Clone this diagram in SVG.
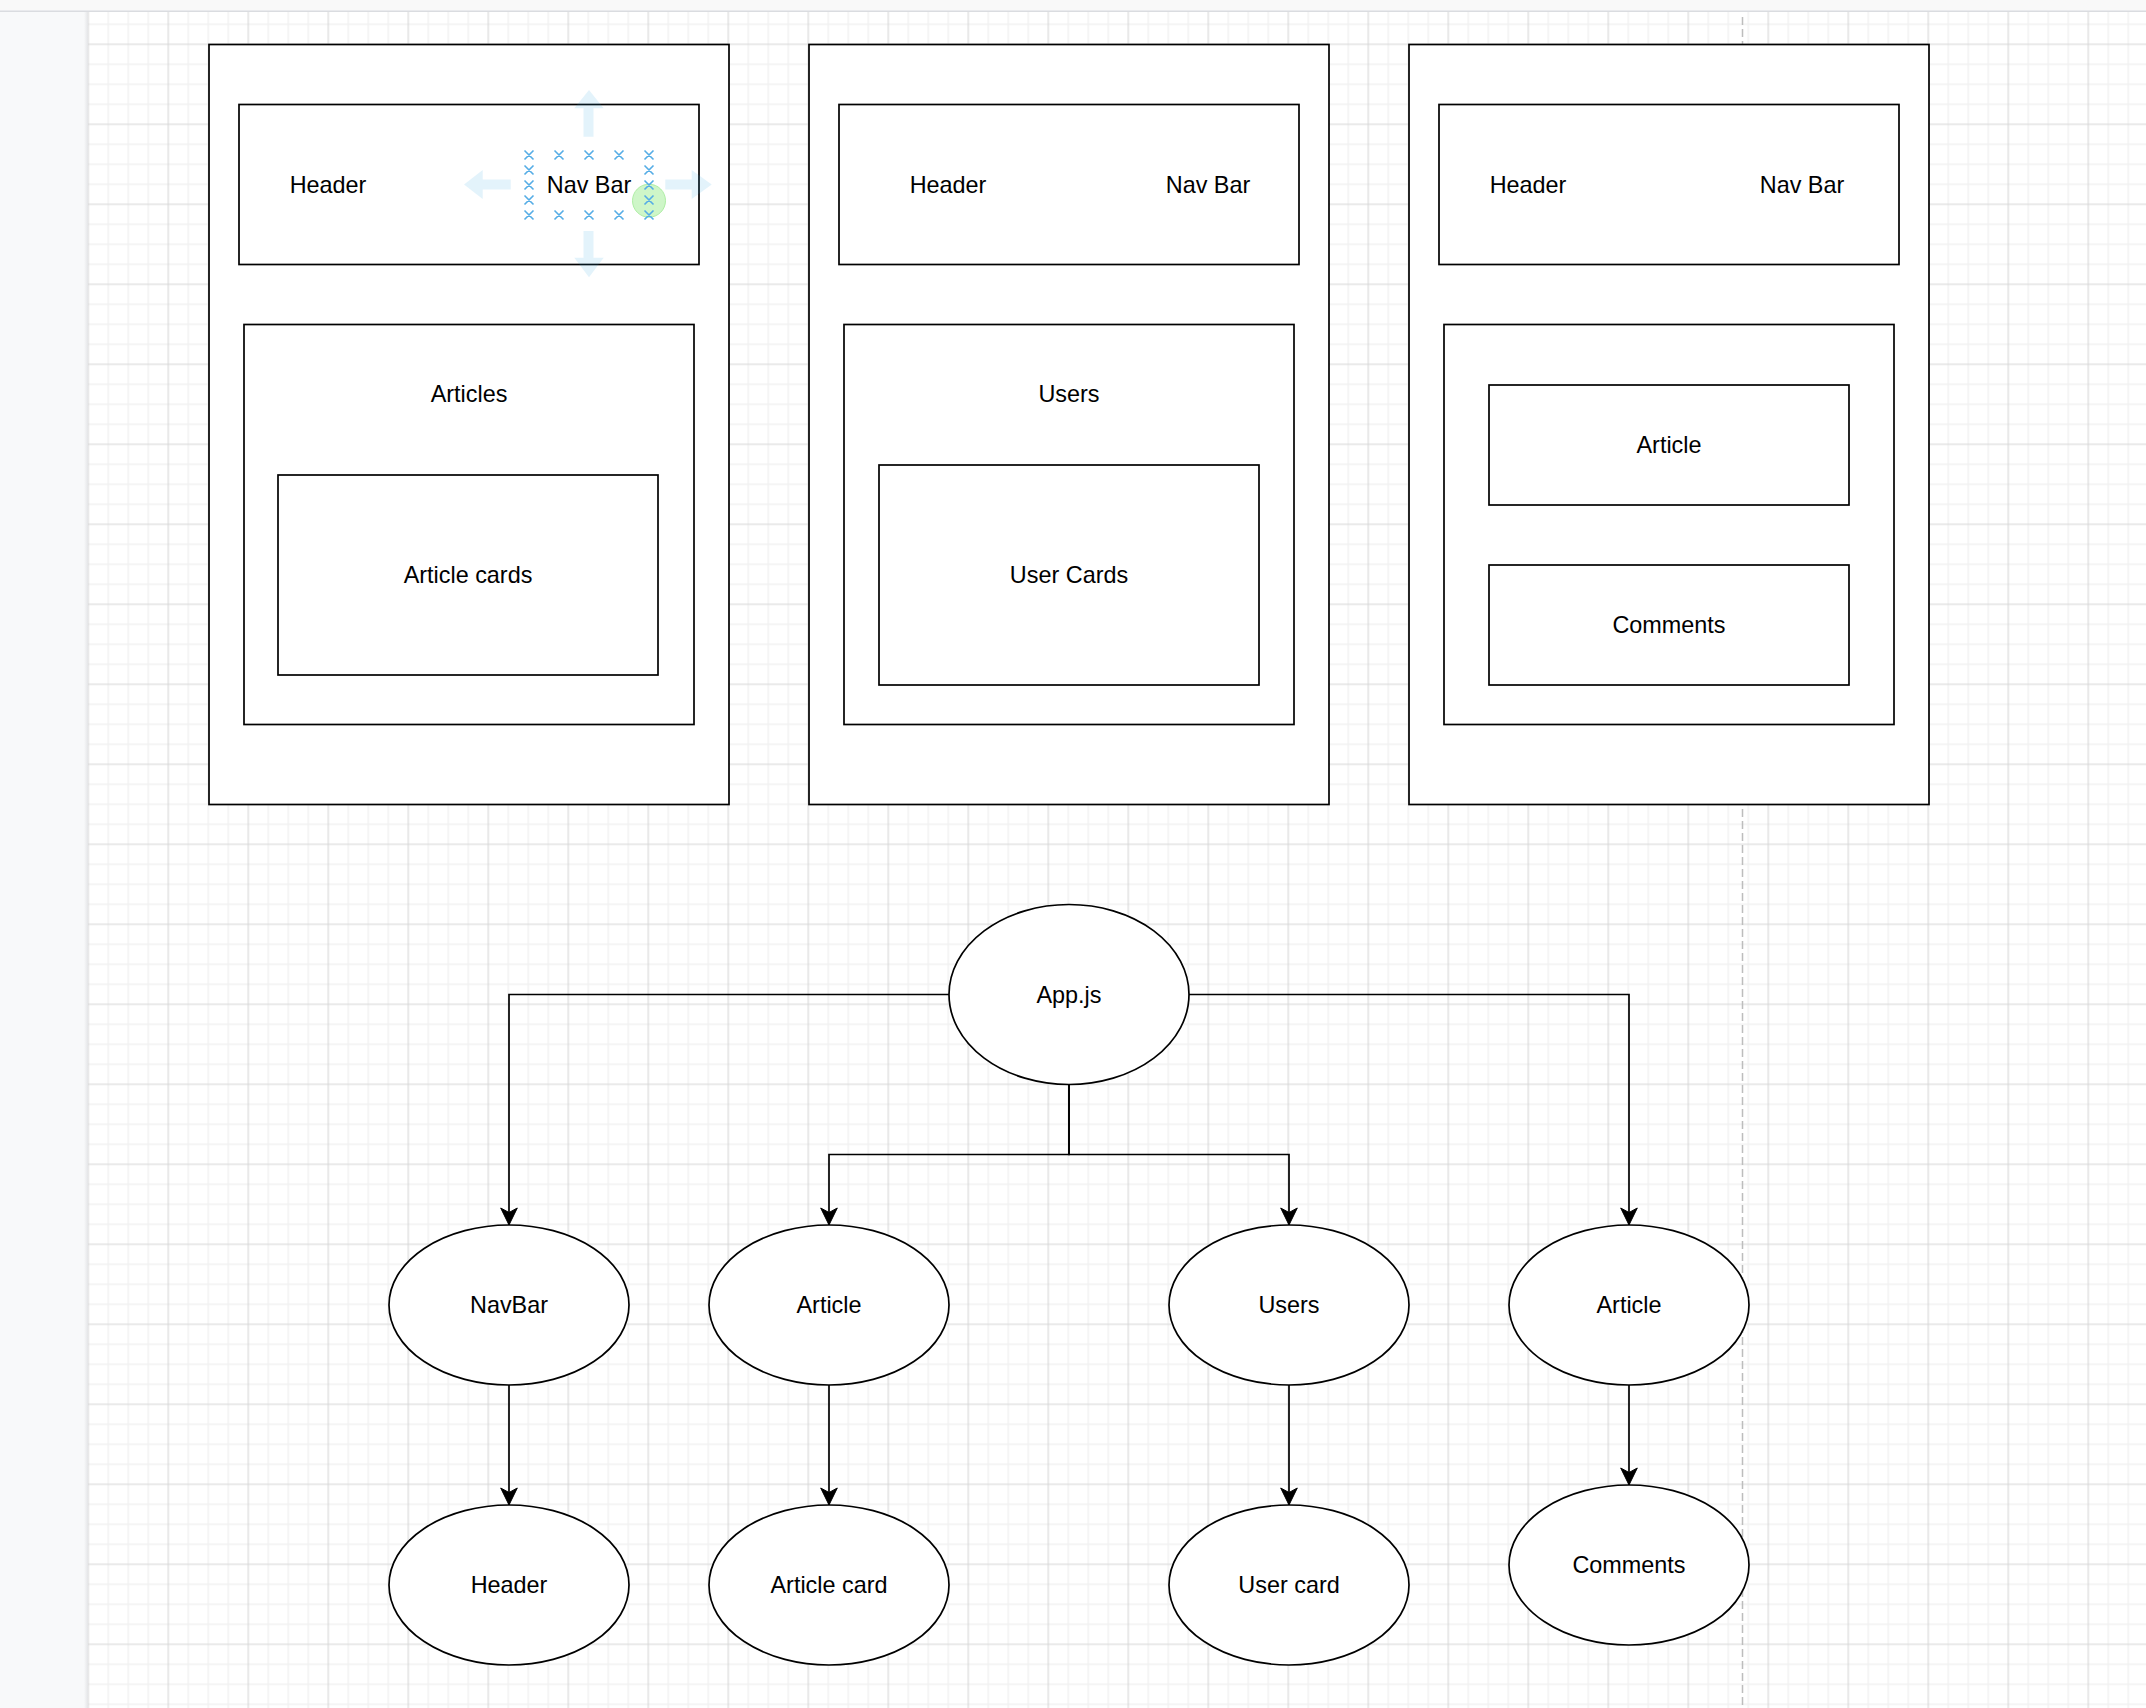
<svg xmlns="http://www.w3.org/2000/svg" width="2146" height="1708" viewBox="0 0 2146 1708">
<defs>
<style>
.box{fill:#fff;stroke:#000;stroke-width:1.7}
.ell{fill:#fff;stroke:#000;stroke-width:1.7}
.lbl{font-family:"Liberation Sans",Arial,Helvetica,sans-serif;font-size:23.4px;fill:#000;text-anchor:middle}
.edge{fill:none;stroke:#000;stroke-width:1.7}
.minor{stroke:#f2f2f2;stroke-width:1.5}
.major{stroke:#d6d6d6;stroke-width:1.1}
.xm{fill:none;stroke:#55ade6;stroke-width:1.6}
.hint{fill:#29a3e0;fill-opacity:0.13}
</style>
<pattern id="grid" patternUnits="userSpaceOnUse" x="78.3" y="34.3" width="80" height="80">
<path class="minor" d="M30,0V80M50,0V80M70,0V80M0,30H80M0,50H80M0,70H80"/>
<path class="major" d="M10,0V80M0,10H80"/>
</pattern>
<linearGradient id="shadow" x1="0" y1="0" x2="1" y2="0">
<stop offset="0" stop-color="#f8f9fa"/>
<stop offset="1" stop-color="#e4e5e7"/>
</linearGradient>
<marker id="arrow" viewBox="-18 -9 19 18" refX="0" refY="0" markerWidth="19" markerHeight="18" markerUnits="userSpaceOnUse" orient="auto">
<path d="M0,0 L-17,-8.3 L-12.5,0 L-17,8.3 Z" fill="#000" stroke="#000" stroke-width="1"/>
</marker>
</defs>

<g id="background">
<rect x="0" y="0" width="2146" height="1708" fill="#f8f9fa"/>
<rect x="0" y="0" width="2146" height="10.5" fill="#f9f9f9"/>
<rect x="0" y="10.5" width="2146" height="1.5" fill="#dadce0"/>
<rect x="88" y="12" width="2058" height="1696" fill="#fff"/>
<rect x="88" y="12" width="2058" height="1696" fill="url(#grid)"/>
<rect x="84" y="12" width="4" height="1696" fill="url(#shadow)"/>
<line x1="1742.5" y1="17" x2="1742.5" y2="1708" stroke="#bdbdbd" stroke-width="1.5" stroke-dasharray="8 4"/>
</g>

<g id="page-articles">
<rect class="box" x="209" y="44.5" width="520" height="760"/>
</g>
<g id="page-articles-header">
<rect class="box" x="239" y="104.5" width="460" height="160"/>
<text class="lbl" x="328" y="193">Header</text>
</g>
<g id="page-articles-navbar">
<text class="lbl" x="589" y="193">Nav Bar</text>
</g>
<g id="page-articles-list">
<rect class="box" x="244" y="324.5" width="450" height="400"/>
<text class="lbl" x="469" y="402">Articles</text>
</g>
<g id="page-articles-cards">
<rect class="box" x="278" y="475" width="380" height="200"/>
<text class="lbl" x="468" y="583">Article cards</text>
</g>

<g id="page-users">
<rect class="box" x="809" y="44.5" width="520" height="760"/>
</g>
<g id="page-users-header">
<rect class="box" x="839" y="104.5" width="460" height="160"/>
<text class="lbl" x="948" y="193">Header</text>
<text class="lbl" x="1208" y="193">Nav Bar</text>
</g>
<g id="page-users-list">
<rect class="box" x="844" y="324.5" width="450" height="400"/>
<text class="lbl" x="1069" y="402">Users</text>
</g>
<g id="page-users-cards">
<rect class="box" x="879" y="465" width="380" height="220"/>
<text class="lbl" x="1069" y="583">User Cards</text>
</g>

<g id="page-article">
<rect class="box" x="1409" y="44.5" width="520" height="760"/>
</g>
<g id="page-article-header">
<rect class="box" x="1439" y="104.5" width="460" height="160"/>
<text class="lbl" x="1528" y="193">Header</text>
<text class="lbl" x="1802" y="193">Nav Bar</text>
</g>
<g id="page-article-content">
<rect class="box" x="1444" y="324.5" width="450" height="400"/>
</g>
<g id="page-article-article">
<rect class="box" x="1489" y="385" width="360" height="120"/>
<text class="lbl" x="1669" y="453">Article</text>
</g>
<g id="page-article-comments">
<rect class="box" x="1489" y="565" width="360" height="120"/>
<text class="lbl" x="1669" y="633">Comments</text>
</g>

<g id="connectors">
<path class="edge" d="M949,994.5 H509 V1225" marker-end="url(#arrow)"/>
<path class="edge" d="M1189,994.5 H1629 V1225" marker-end="url(#arrow)"/>
<path class="edge" d="M1069,1084.5 V1154.5 H829 V1225" marker-end="url(#arrow)"/>
<path class="edge" d="M1069,1084.5 V1154.5 H1289 V1225" marker-end="url(#arrow)"/>
<path class="edge" d="M509,1385 V1505" marker-end="url(#arrow)"/>
<path class="edge" d="M829,1385 V1505" marker-end="url(#arrow)"/>
<path class="edge" d="M1289,1385 V1505" marker-end="url(#arrow)"/>
<path class="edge" d="M1629,1385 V1485" marker-end="url(#arrow)"/>
</g>

<g id="node-app">
<ellipse class="ell" cx="1069" cy="994.5" rx="120" ry="90"/>
<text class="lbl" x="1069" y="1002.5">App.js</text>
</g>
<g id="node-navbar">
<ellipse class="ell" cx="509" cy="1305" rx="120" ry="80"/>
<text class="lbl" x="509" y="1313">NavBar</text>
</g>
<g id="node-article-list">
<ellipse class="ell" cx="829" cy="1305" rx="120" ry="80"/>
<text class="lbl" x="829" y="1313">Article</text>
</g>
<g id="node-users">
<ellipse class="ell" cx="1289" cy="1305" rx="120" ry="80"/>
<text class="lbl" x="1289" y="1313">Users</text>
</g>
<g id="node-article">
<ellipse class="ell" cx="1629" cy="1305" rx="120" ry="80"/>
<text class="lbl" x="1629" y="1313">Article</text>
</g>
<g id="node-header">
<ellipse class="ell" cx="509" cy="1585" rx="120" ry="80"/>
<text class="lbl" x="509" y="1593">Header</text>
</g>
<g id="node-article-card">
<ellipse class="ell" cx="829" cy="1585" rx="120" ry="80"/>
<text class="lbl" x="829" y="1593">Article card</text>
</g>
<g id="node-user-card">
<ellipse class="ell" cx="1289" cy="1585" rx="120" ry="80"/>
<text class="lbl" x="1289" y="1593">User card</text>
</g>
<g id="node-comments">
<ellipse class="ell" cx="1629" cy="1565" rx="120" ry="80"/>
<text class="lbl" x="1629" y="1573">Comments</text>
</g>

<g id="selection-overlay">
<path class="hint" d="M583.5,136.7 V108.3 H574.3 L589,90 L603.7,108.3 H593.5 V136.7 Z"/>
<path class="hint" d="M583.5,231 V257.7 H574.3 L589,277.3 L603.7,257.7 H593.5 V231 Z"/>
<path class="hint" d="M510.7,179.5 H482.7 V170 L464,184.5 L482.7,199 V189.5 H510.7 Z"/>
<path class="hint" d="M665.3,179.5 H691.7 V170 L711.7,184.5 L691.7,199 V189.5 H665.3 Z"/>
<circle cx="649" cy="200.7" r="16.5" fill="#c6f5be" fill-opacity="0.85" stroke="#aeeea4" stroke-width="1"/>
<path class="xm" d="M524.5,150.5l9,9m0,-9l-9,9 M554.5,150.5l9,9m0,-9l-9,9 M584.5,150.5l9,9m0,-9l-9,9 M614.5,150.5l9,9m0,-9l-9,9 M644.5,150.5l9,9m0,-9l-9,9 M524.5,210.5l9,9m0,-9l-9,9 M554.5,210.5l9,9m0,-9l-9,9 M584.5,210.5l9,9m0,-9l-9,9 M614.5,210.5l9,9m0,-9l-9,9 M644.5,210.5l9,9m0,-9l-9,9 M524.5,165.5l9,9m0,-9l-9,9 M524.5,180.5l9,9m0,-9l-9,9 M524.5,195.5l9,9m0,-9l-9,9 M644.5,165.5l9,9m0,-9l-9,9 M644.5,180.5l9,9m0,-9l-9,9 M644.5,195.5l9,9m0,-9l-9,9"/>
</g>
</svg>
